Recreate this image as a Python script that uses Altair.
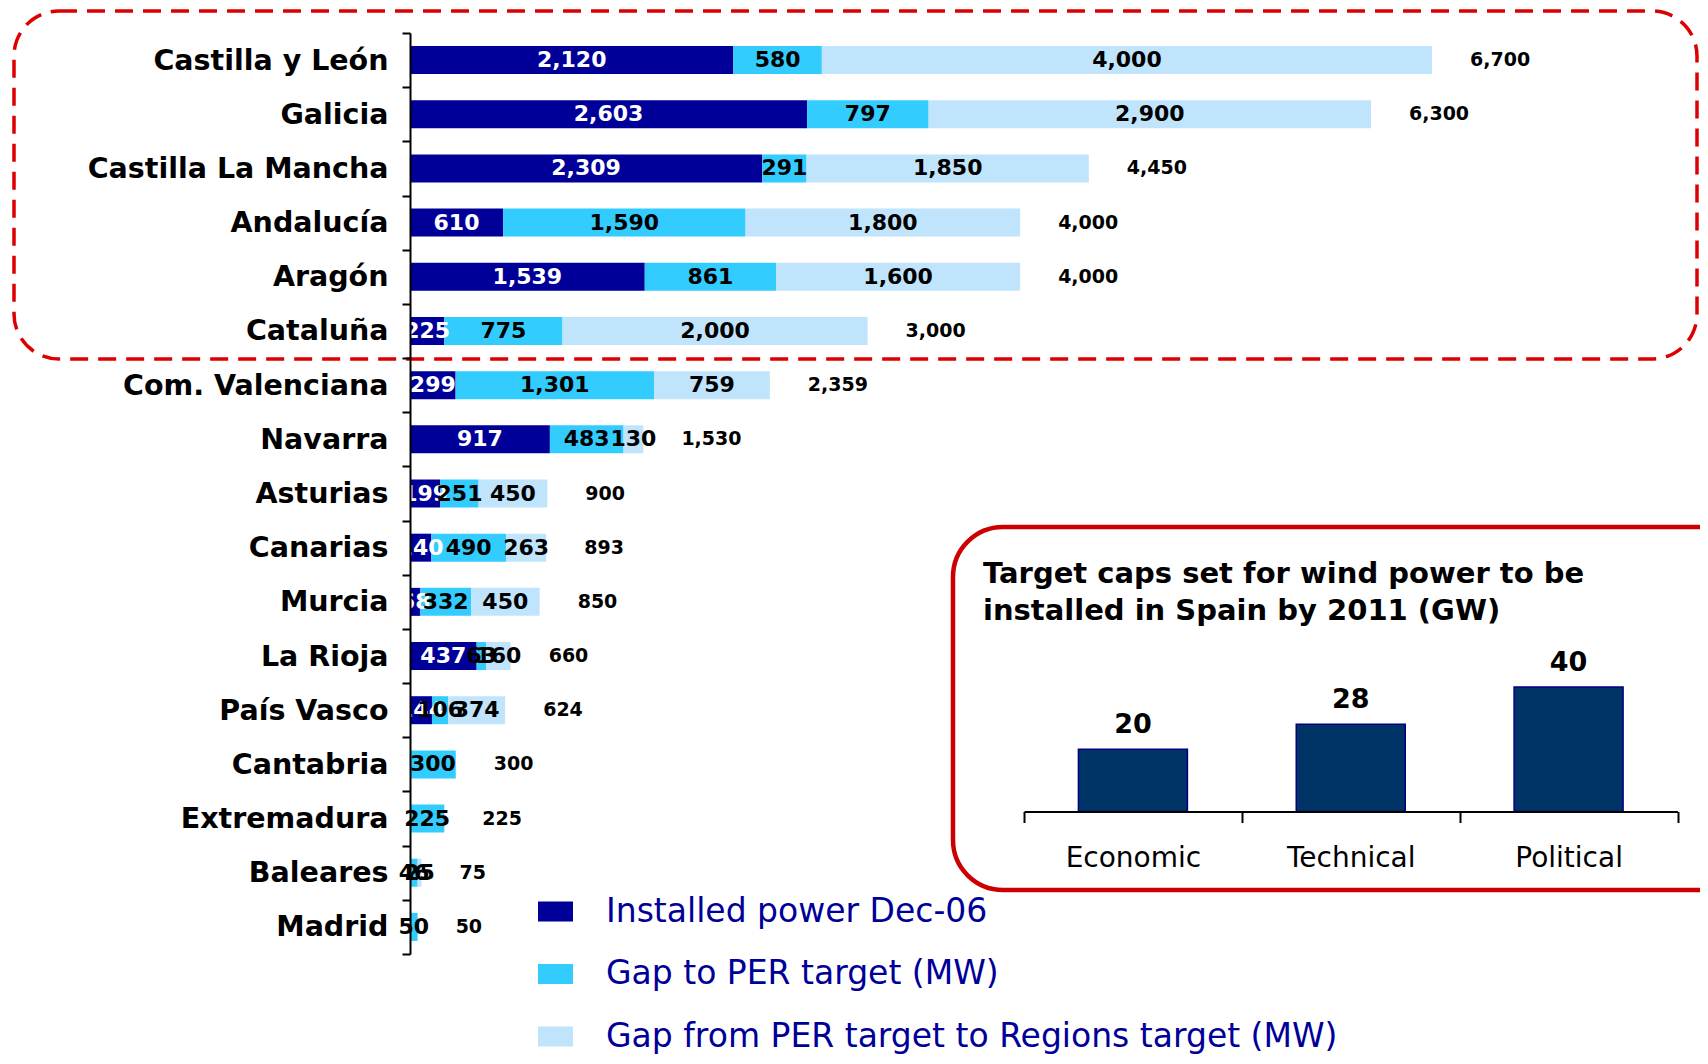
import altair as alt
import pandas as pd

# ---------------- data ----------------
regions = ["Castilla y León", "Galicia", "Castilla La Mancha", "Andalucía", "Aragón",
           "Cataluña", "Com. Valenciana", "Navarra", "Asturias", "Canarias", "Murcia",
           "La Rioja", "País Vasco", "Cantabria", "Extremadura", "Baleares", "Madrid"]
installed = [2120, 2603, 2309, 610, 1539, 225, 299, 917, 199, 140, 68, 437, 144, 0, 0, 4, 0]
gap_per = [580, 797, 291, 1590, 861, 775, 1301, 483, 251, 490, 332, 63, 106, 300, 225, 46, 50]
gap_regions = [4000, 2900, 1850, 1800, 1600, 2000, 759, 130, 450, 263, 450, 160, 374, 0, 0, 25, 0]
series = ["Installed power Dec-06", "Gap to PER target (MW)",
          "Gap from PER target to Regions target (MW)"]
colors = ["#000099", "#33CCFF", "#C0E4FC"]

caps_labels = ["Economic", "Technical", "Political"]
caps_values = [20, 28, 40]
inset_title = ["Target caps set for wind power to be", "installed in Spain by 2011 (GW)"]

FONT = "DejaVu Sans"
W, H = 1692, 1048

rows = []
for i, r in enumerate(regions):
    for k, vals in enumerate([installed, gap_per, gap_regions]):
        rows.append({"region": r, "series": series[k], "order": k, "value": vals[i]})
df = pd.DataFrame(rows)
caps_df = pd.DataFrame({"cap": caps_labels, "gw": caps_values})
dummy = pd.DataFrame({"a": [0]})

# ---------------- main stacked bars ----------------
y_main = alt.Y("region:N", sort=regions,
               scale=alt.Scale(range=[25, 946], paddingInner=0, paddingOuter=0),
               axis=alt.Axis(orient="left", title=None, offset=-402, labelFont=FONT,
                             labelFontSize=28.5, labelFontWeight="bold", labelColor="black",
                             labelPadding=14, domainColor="black", domainWidth=2,
                             tickColor="black", tickWidth=2, tickSize=8, tickBand="extent",
                             grid=False, labelLimit=600, zindex=2))
x_scale = alt.Scale(domain=[0, 6700], range=[402, 1424], nice=False, zero=True)

base = alt.Chart(df).transform_stack(
    stack="value", groupby=["region"], as_=["x0", "x1"],
    sort=[alt.SortField("order", order="ascending")])

bars = base.mark_bar(height=28).encode(
    x=alt.X("x0:Q", scale=x_scale, axis=None),
    x2="x1:Q",
    y=y_main,
    color=alt.Color("series:N", scale=alt.Scale(domain=series, range=colors),
                    legend=alt.Legend(orient="none", legendX=530, legendY=886, title=None,
                                      symbolType="M-1,-0.57H1V0.57H-1Z", symbolSize=1225,
                                      symbolStrokeWidth=0, symbolOpacity=1,
                                      labelFont=FONT, labelFontSize=33, labelColor="#000099",
                                      labelOffset=33, rowPadding=27.5, padding=0,
                                      labelLimit=1000)),
)

seg_labels = base.transform_filter("datum.value >= 10").transform_calculate(
    xm="(datum.x0 + datum.x1) / 2").mark_text(
    font=FONT, fontSize=22, fontWeight="bold", baseline="middle").encode(
    x=alt.X("xm:Q", scale=x_scale, axis=None),
    y=alt.Y("region:N", sort=regions),
    text=alt.Text("value:Q", format=","),
    color=alt.when(alt.datum.order == 0).then(alt.value("white")).otherwise(alt.value("black")),
)

totals = alt.Chart(df).transform_aggregate(
    total="sum(value)", groupby=["region"]).mark_text(
    font=FONT, fontSize=19, fontWeight="bold", align="left", dx=38, baseline="middle",
    color="black").encode(
    x=alt.X("total:Q", scale=x_scale, axis=None),
    y=alt.Y("region:N", sort=regions),
    text=alt.Text("total:Q", format=","),
)

main = alt.layer(bars, seg_labels, totals)

# ---------------- inset chart ----------------
inset_x = alt.X("cap:N", sort=caps_labels,
                scale=alt.Scale(range=[1016, 1669.5], paddingInner=0, paddingOuter=0),
                axis=alt.Axis(orient="bottom", offset=803.5 - H, title=None, labelAngle=0,
                              labelFont=FONT, labelFontSize=28, labelColor="black",
                              labelPadding=22, domainColor="black", domainWidth=2,
                              tickColor="black", tickWidth=2, tickSize=11,
                              tickBand="extent", grid=False, zindex=2))
inset_y = alt.Y("gw:Q", scale=alt.Scale(domain=[0, 40], range=[803.5, 679], nice=False),
                axis=None)

inset_bars = alt.Chart(caps_df).mark_bar(width=109, color="#003366", stroke="#000080",
                                         strokeWidth=1.5).encode(x=inset_x, y=inset_y)
inset_labels = alt.Chart(caps_df).mark_text(
    font=FONT, fontSize=27, fontWeight="bold", baseline="alphabetic", dy=-16,
    color="black").encode(x=alt.X("cap:N", sort=caps_labels), y="gw:Q",
                          text=alt.Text("gw:Q"))
inset = alt.layer(inset_bars, inset_labels)

# ---------------- decorations ----------------
inset_box = alt.Chart(dummy).mark_rect(
    fill="white", stroke="#CC0000", strokeWidth=4.5, cornerRadius=50).encode(
    x=alt.value(945), x2=alt.value(1780), y=alt.value(519), y2=alt.value(882))

title_text = alt.Chart(dummy).mark_text(
    text=inset_title, font=FONT, fontSize=29, fontWeight="bold", align="left",
    baseline="alphabetic", lineHeight=37, color="black").encode(
    x=alt.value(975), y=alt.value(575))

frame = alt.Chart(dummy).mark_rect(
    fillOpacity=0, stroke="#DD0000", strokeWidth=3.5, strokeDash=[18, 10],
    cornerRadius=45).encode(
    x=alt.value(6), x2=alt.value(1689), y=alt.value(3), y2=alt.value(351))

chart = alt.layer(inset_box, title_text, main, inset, frame).resolve_scale(
    x="independent", y="independent").properties(
    width=W, height=H, padding=0,
    autosize=alt.AutoSizeParams(type="none")).configure_view(stroke="transparent")

chart.save("out.html", embed_options={"renderer": "svg", "actions": False})
